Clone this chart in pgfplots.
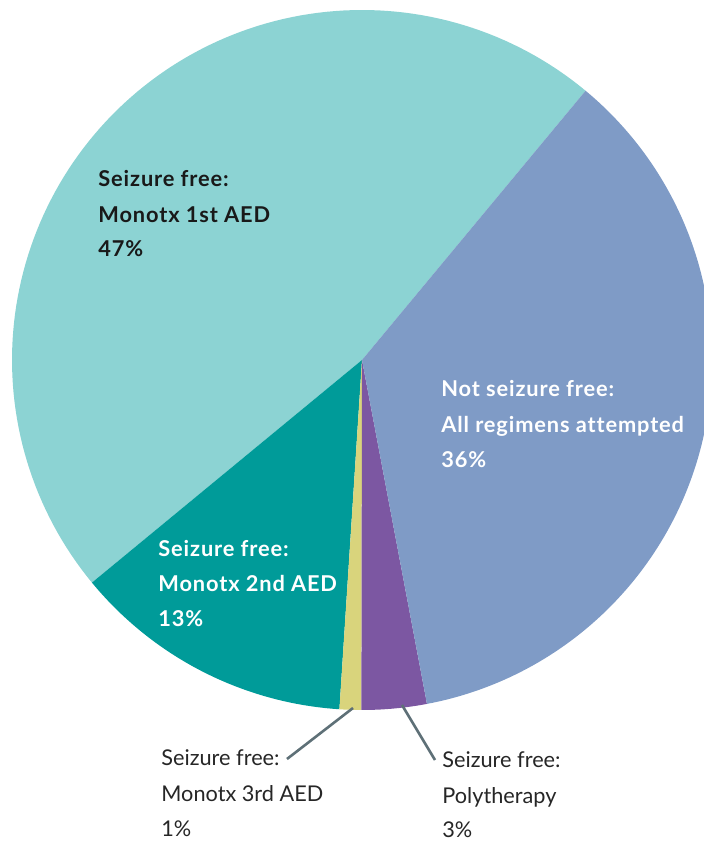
\documentclass[border=0pt]{standalone}
\usepackage{pgfplots}
\pgfplotsset{compat=1.18}
\usepackage{fontspec}
\setmainfont{Lato}
\newfontfamily\boldlato[LetterSpace=4,Ligatures=NoCommon]{Lato Bold}
\definecolor{cLight}{HTML}{8CD3D3}
\definecolor{cBlue}{HTML}{7F9BC6}
\definecolor{cDark}{HTML}{009B99}
\definecolor{cYellow}{HTML}{D9D47C}
\definecolor{cPurple}{HTML}{7C57A2}
\definecolor{cLine}{HTML}{5E7077}
\def\cumangle{50.3}
\newcommand\slice[2]{%
  \pgfmathsetmacro\angA{\cumangle}%
  \pgfmathsetmacro\angB{\cumangle+3.6*#1}%
  \edef\doslice{\noexpand\addplot[fill=#2,draw=none,domain=\angA:\angB,samples=120,variable=\noexpand\t]
    ({362+350*cos(\noexpand\t)},{-360+350*sin(\noexpand\t)}) -- (axis cs:362,-360) -- cycle;}%
  \doslice
  \xdef\cumangle{\angB}%
}
\begin{document}
\begin{tikzpicture}
\begin{axis}[
  width=352pt, height=421pt, scale only axis,
  xmin=0, xmax=704, ymin=-842, ymax=0,
  hide axis, clip=true,
]
% values (percent), counterclockwise from about 50 degrees
\slice{47}{cLight}
\slice{13}{cDark}
\slice{1}{cYellow}
\slice{3}{cPurple}
\slice{36}{cBlue}

\draw[cLine, line width=1.3pt] (axis cs:353,-708) -- (axis cs:287,-759);
\draw[cLine, line width=1.3pt] (axis cs:402,-705) -- (axis cs:435,-760);

\begin{scope}[every node/.style={anchor=base west, inner sep=0pt}]
\begin{scope}[every node/.append style={font=\boldlato\fontsize{10.9}{12}\selectfont}]
\node[text=black!90] at (axis cs:98,-187) {Seizure free:};
\node[text=black!90] at (axis cs:98,-223) {Monotx 1st AED};
\node[text=black!90] at (axis cs:98,-257) {47\%};
\node[text=white] at (axis cs:441,-397) {Not seizure free:};
\node[text=white] at (axis cs:441,-433) {All regimens attempted};
\node[text=white] at (axis cs:441,-468) {36\%};
\node[text=white] at (axis cs:158,-557) {Seizure free:};
\node[text=white] at (axis cs:158,-592) {Monotx 2nd AED};
\node[text=white] at (axis cs:158,-627) {13\%};
\end{scope}
\begin{scope}[every node/.append style={font=\fontsize{10.85}{12}\selectfont}]
\node[text=black!85] at (axis cs:161,-766) {Seizure free:};
\node[text=black!85] at (axis cs:161,-802) {Monotx 3rd AED};
\node[text=black!85] at (axis cs:161,-837) {1\%};
\node[text=black!85] at (axis cs:442,-767) {Seizure free:};
\node[text=black!85] at (axis cs:442,-803) {Polytherapy};
\node[text=black!85] at (axis cs:442,-838) {3\%};
\end{scope}
\end{scope}
\end{axis}
\pgfresetboundingbox
\path[use as bounding box] (current axis.south west) rectangle (current axis.north east);
\end{tikzpicture}
\end{document}
